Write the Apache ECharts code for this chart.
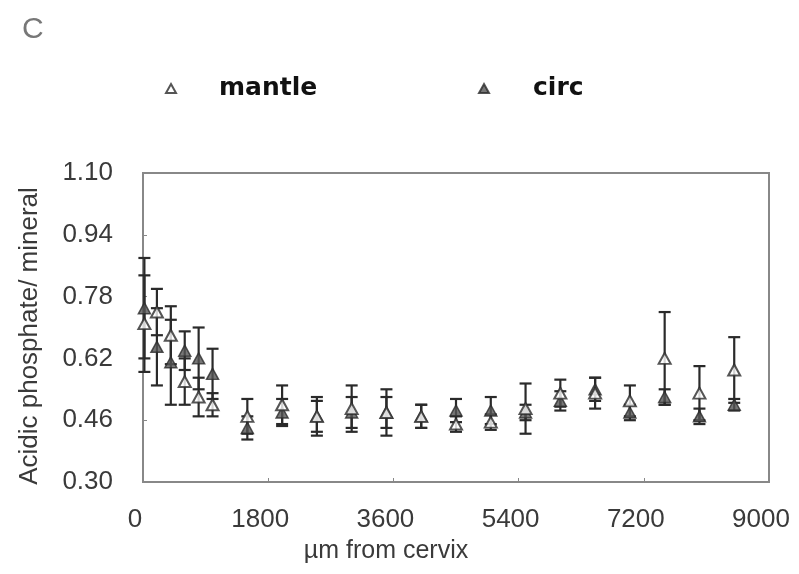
<!DOCTYPE html>
<html>
<head>
<meta charset="utf-8">
<script src="https://cdn.jsdelivr.net/npm/echarts@6/dist/echarts.min.js"></script>
<style>
  html, body { margin: 0; padding: 0; background: #fff; }
  #chart { width: 799px; height: 574px; }
</style>
</head>
<body>
<div id="chart"></div>
<script>
// distance from cervix (um)
const positions = [20, 200, 400, 600, 800, 1000, 1500, 2000, 2500, 3000, 3500, 4000, 4500, 5000, 5500, 6000, 6500, 7000, 7500, 8000, 8500];

// mantle dentin: mean and error
const mantleMean = [0.71, 0.74, 0.68, 0.56, 0.52, 0.50, 0.47, 0.50, 0.47, 0.49, 0.48, 0.47, 0.45, 0.455, 0.49, 0.53, 0.53, 0.51, 0.62, 0.53, 0.59];
const mantleErr  = [0.125, 0.06, 0.075, 0.06, 0.05, 0.03, 0.045, 0.05, 0.05, 0.06, 0.06, 0.03, 0.02, 0.02, 0.065, 0.035, 0.04, 0.04, 0.12, 0.07, 0.085];

// circumpulpal dentin: mean and error
const circMean = [0.75, 0.65, 0.61, 0.64, 0.62, 0.58, 0.44, 0.48, 0.47, 0.48, 0.48, 0.47, 0.485, 0.485, 0.48, 0.51, 0.54, 0.48, 0.52, 0.47, 0.50];
const circErr  = [0.13, 0.10, 0.11, 0.05, 0.08, 0.065, 0.03, 0.035, 0.04, 0.04, 0.04, 0.03, 0.03, 0.035, 0.02, 0.025, 0.03, 0.02, 0.02, 0.02, 0.015];

const yTicks = [0.30, 0.46, 0.62, 0.78, 0.94, 1.10];
const xTicks = [0, 1800, 3600, 5400, 7200, 9000];

// y axis starts at 0.30, values are plotted relative to it so ticks line up
const Y0 = yTicks[0];
const yStep = yTicks[1] - yTicks[0];

const chart = echarts.init(document.getElementById('chart'));

function points(mean) {
    return positions.map((x, i) => [x, mean[i] - Y0]);
}

function bars(mean, err) {
    return positions.map((x, i) => [x, mean[i] - err[i] - Y0, mean[i] + err[i] - Y0]);
}

// error bar with caps
function renderErr(params, api) {
    const x = api.value(0);
    const lo = api.coord([x, api.value(1)]);
    const hi = api.coord([x, api.value(2)]);
    const w = 6;
    const style = { stroke: '#2a2a2a', lineWidth: 2.2 };
    return {
        type: 'group',
        children: [
            { type: 'line', shape: { x1: lo[0], y1: lo[1], x2: hi[0], y2: hi[1] }, style: style },
            { type: 'line', shape: { x1: lo[0] - w, y1: lo[1], x2: lo[0] + w, y2: lo[1] }, style: style },
            { type: 'line', shape: { x1: hi[0] - w, y1: hi[1], x2: hi[0] + w, y2: hi[1] }, style: style }
        ]
    };
}

const labelFont = { fontFamily: 'Liberation Sans', fontSize: 26, color: '#3a3a3a' };
const legendFont = { fontFamily: 'DejaVu Sans', fontSize: 25, fontWeight: 'bold', color: '#111' };

const option = {
    backgroundColor: '#fff',
    animation: false,
    title: {
        text: 'C',
        left: 17,
        top: 10,
        textStyle: { fontFamily: 'Liberation Sans', fontSize: 30, fontWeight: 'normal', color: '#777' }
    },
    legend: [
        {
            data: ['mantle'],
            left: 165,
            top: 76,
            padding: 0,
            itemWidth: 10,
            itemHeight: 9,
            textStyle: Object.assign({ padding: [0, 0, 0, 38] }, legendFont)
        },
        {
            data: ['circ'],
            left: 478,
            top: 76,
            padding: 0,
            itemWidth: 10,
            itemHeight: 9,
            textStyle: Object.assign({ padding: [0, 0, 0, 39] }, legendFont)
        }
    ],
    grid: {
        left: 143,
        right: 30,
        top: 173,
        bottom: 92,
        show: true,
        borderColor: '#888',
        borderWidth: 2
    },
    xAxis: {
        type: 'value',
        min: xTicks[0],
        max: xTicks[xTicks.length - 1],
        interval: xTicks[1] - xTicks[0],
        name: 'µm from cervix',
        nameLocation: 'middle',
        nameGap: 57,
        nameTextStyle: Object.assign({ padding: [0, 140, 0, 0] }, labelFont, { fontSize: 25 }),
        axisLine: { show: true, lineStyle: { color: '#888', width: 2 } },
        axisTick: { show: true, inside: true, length: 4, lineStyle: { color: '#888' } },
        splitLine: { show: false },
        axisLabel: Object.assign({
            margin: 25,
            padding: [0, 16, 0, 0],
            formatter: v => String(v)
        }, labelFont)
    },
    yAxis: {
        type: 'value',
        min: 0,
        max: yTicks[yTicks.length - 1] - Y0,
        interval: yStep,
        name: 'Acidic phosphate/ mineral',
        nameLocation: 'middle',
        nameGap: 100,
        nameRotate: 90,
        nameTextStyle: Object.assign({ padding: [0, 17, 0, 0] }, labelFont),
        axisLine: { show: true, lineStyle: { color: '#888', width: 2 } },
        axisTick: { show: true, inside: true, length: 4, lineStyle: { color: '#888' } },
        splitLine: { show: false },
        axisLabel: Object.assign({
            margin: 30,
            formatter: v => (v + Y0).toFixed(2)
        }, labelFont)
    },
    series: [
        {
            name: 'mantle err',
            type: 'custom',
            renderItem: renderErr,
            encode: { x: 0, y: [1, 2] },
            data: bars(mantleMean, mantleErr),
            z: 1
        },
        {
            name: 'circ err',
            type: 'custom',
            renderItem: renderErr,
            encode: { x: 0, y: [1, 2] },
            data: bars(circMean, circErr),
            z: 1
        },
        {
            name: 'circ',
            type: 'scatter',
            symbol: 'triangle',
            symbolSize: [12, 11],
            itemStyle: { color: '#555', borderColor: '#2a2a2a', borderWidth: 1.5 },
            data: points(circMean),
            z: 3
        },
        {
            name: 'mantle',
            type: 'scatter',
            symbol: 'triangle',
            symbolSize: [12, 11],
            itemStyle: { color: '#fff', borderColor: '#2a2a2a', borderWidth: 2 },
            data: points(mantleMean),
            z: 4
        }
    ]
};

chart.setOption(option);
</script>
</body>
</html>
